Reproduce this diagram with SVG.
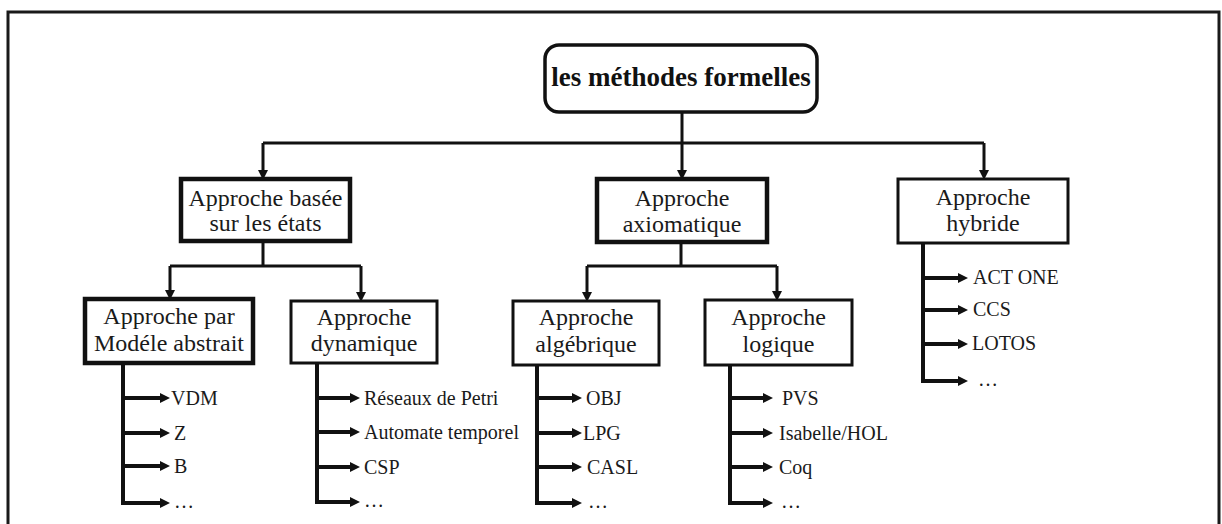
<svg xmlns="http://www.w3.org/2000/svg" width="1222" height="524" viewBox="0 0 1222 524">
  <style>
    .frame { fill: #fff; stroke: #1a1a1a; stroke-width: 3; }
    .box { fill: #fff; stroke: #111; stroke-width: 3; }
    .box.heavy { stroke-width: 4.5; }
    .root { fill: #fff; stroke: #111; stroke-width: 3.5; }
    .label { font-family: "Liberation Serif", "Times New Roman", serif; font-size: 24px; fill: #1a1a1a; text-anchor: middle; }
    .title { font-family: "Liberation Serif", "Times New Roman", serif; font-size: 27px; font-weight: bold; fill: #111; text-anchor: middle; }
    .leaf { font-family: "Liberation Serif", "Times New Roman", serif; font-size: 20px; fill: #1a1a1a; }
    .link { fill: none; stroke: #111; stroke-width: 3; }
    .trunk { fill: none; stroke: #111; stroke-width: 4; }
    .arrow { marker-end: url(#head); }
  </style>
  <defs>
    <marker id="head" markerUnits="userSpaceOnUse" markerWidth="10" markerHeight="10" refX="0" refY="5" orient="auto">
      <path d="M0,0 L10,5 L0,10 Z" fill="#111"/>
    </marker>
  </defs>

  <!-- page frame -->
  <rect class="frame" x="8" y="12" width="1211" height="530"/>

  <!-- connectors -->
  <g id="connectors">
    <!-- root to level 1 -->
    <path class="link" d="M263,143 H984"/>
    <path class="link arrow" d="M682,112 V170"/>
    <path class="link arrow" d="M263,143 V170"/>
    <path class="link arrow" d="M984,143 V170"/>

    <!-- state-based branch -->
    <path class="link" d="M263,241 V266 M170,266 H361"/>
    <path class="link arrow" d="M170,266 V290"/>
    <path class="link arrow" d="M361,266 V292"/>

    <!-- axiomatic branch -->
    <path class="link" d="M681,242 V266 M587,266 H777"/>
    <path class="link arrow" d="M587,266 V292"/>
    <path class="link arrow" d="M777,266 V291"/>

    <!-- abstract model leaves -->
    <path class="trunk" d="M123,363 V503"/>
    <path class="trunk arrow" d="M123,398 H160"/>
    <path class="trunk arrow" d="M123,433 H160"/>
    <path class="trunk arrow" d="M123,466 H160"/>
    <path class="trunk arrow" d="M121,503 H160"/>

    <!-- dynamic leaves -->
    <path class="trunk" d="M317,363 V502"/>
    <path class="trunk arrow" d="M317,398 H350"/>
    <path class="trunk arrow" d="M317,432 H350"/>
    <path class="trunk arrow" d="M317,467 H350"/>
    <path class="trunk arrow" d="M315,502 H350"/>

    <!-- algebraic leaves -->
    <path class="trunk" d="M537,365 V503"/>
    <path class="trunk arrow" d="M537,398 H572"/>
    <path class="trunk arrow" d="M537,433 H572"/>
    <path class="trunk arrow" d="M537,467 H572"/>
    <path class="trunk arrow" d="M535,503 H572"/>

    <!-- logic leaves -->
    <path class="trunk" d="M730,365 V503"/>
    <path class="trunk arrow" d="M730,398 H763"/>
    <path class="trunk arrow" d="M730,433 H763"/>
    <path class="trunk arrow" d="M730,467 H763"/>
    <path class="trunk arrow" d="M728,503 H763"/>

    <!-- hybrid leaves -->
    <path class="trunk" d="M923,243 V381"/>
    <path class="trunk arrow" d="M923,278 H958"/>
    <path class="trunk arrow" d="M923,310 H958"/>
    <path class="trunk arrow" d="M923,344 H958"/>
    <path class="trunk arrow" d="M921,381 H958"/>
  </g>

  <!-- root -->
  <g id="root">
    <rect class="root" x="545" y="45" width="272" height="67" rx="14"/>
    <text class="title" x="681" y="86">les méthodes formelles</text>
  </g>

  <!-- level 1 -->
  <g id="etats">
    <rect class="box heavy" x="181" y="179" width="169" height="62"/>
    <text class="label" x="265.5" y="206">Approche basée</text>
    <text class="label" x="265.5" y="231">sur les états</text>
  </g>
  <g id="axiomatique">
    <rect class="box heavy" x="597" y="179" width="170" height="63"/>
    <text class="label" x="682" y="206">Approche</text>
    <text class="label" x="682" y="232">axiomatique</text>
  </g>
  <g id="hybride">
    <rect class="box" x="898" y="179" width="170" height="64"/>
    <text class="label" x="983" y="205">Approche</text>
    <text class="label" x="983" y="231">hybride</text>
  </g>

  <!-- level 2 -->
  <g id="modele-abstrait">
    <rect class="box heavy" x="85" y="299" width="168" height="64"/>
    <text class="label" x="169" y="324">Approche par</text>
    <text class="label" x="169" y="351">Modéle abstrait</text>
  </g>
  <g id="dynamique">
    <rect class="box" x="291" y="301" width="146" height="62"/>
    <text class="label" x="364" y="325">Approche</text>
    <text class="label" x="364" y="351">dynamique</text>
  </g>
  <g id="algebrique">
    <rect class="box" x="513" y="301" width="146" height="64"/>
    <text class="label" x="586" y="325">Approche</text>
    <text class="label" x="586" y="352">algébrique</text>
  </g>
  <g id="logique">
    <rect class="box" x="705" y="300" width="147" height="65"/>
    <text class="label" x="778.5" y="325">Approche</text>
    <text class="label" x="778.5" y="352">logique</text>
  </g>

  <!-- leaves -->
  <g id="leaves-modele">
    <text class="leaf" x="171" y="405">VDM</text>
    <text class="leaf" x="174" y="440">Z</text>
    <text class="leaf" x="174" y="473">B</text>
    <text class="leaf" x="174" y="508">…</text>
  </g>
  <g id="leaves-dynamique">
    <text class="leaf" x="364" y="405">Réseaux de Petri</text>
    <text class="leaf" x="364" y="439">Automate temporel</text>
    <text class="leaf" x="364" y="474">CSP</text>
    <text class="leaf" x="364" y="507">…</text>
  </g>
  <g id="leaves-algebrique">
    <text class="leaf" x="586" y="405">OBJ</text>
    <text class="leaf" x="583" y="440">LPG</text>
    <text class="leaf" x="587" y="474">CASL</text>
    <text class="leaf" x="588" y="508">…</text>
  </g>
  <g id="leaves-logique">
    <text class="leaf" x="782" y="405">PVS</text>
    <text class="leaf" x="779" y="440">Isabelle/HOL</text>
    <text class="leaf" x="779" y="474">Coq</text>
    <text class="leaf" x="781" y="508">…</text>
  </g>
  <g id="leaves-hybride">
    <text class="leaf" x="973" y="284">ACT ONE</text>
    <text class="leaf" x="973" y="316">CCS</text>
    <text class="leaf" x="972" y="350">LOTOS</text>
    <text class="leaf" x="978" y="386">…</text>
  </g>
</svg>
